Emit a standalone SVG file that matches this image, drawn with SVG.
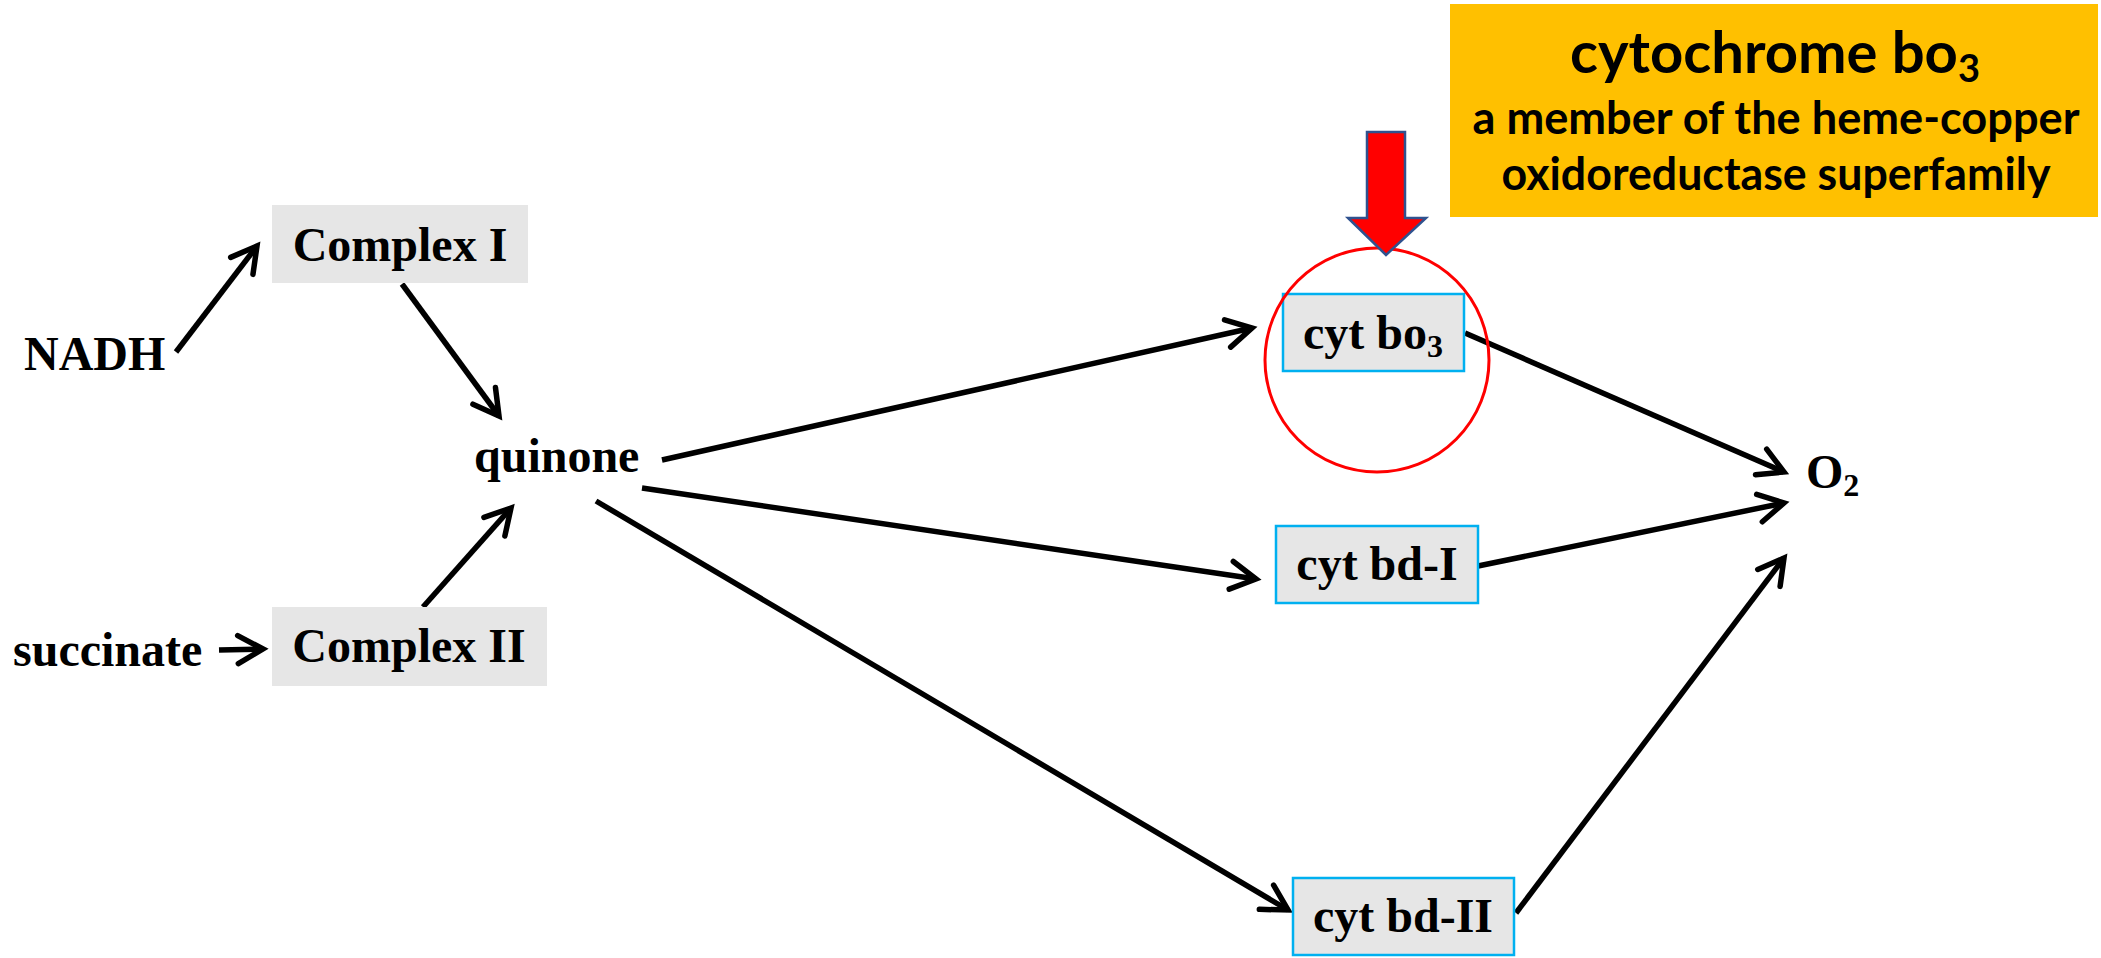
<svg xmlns="http://www.w3.org/2000/svg" width="2101" height="958" viewBox="0 0 2101 958">
<style>
.t{font-family:"Liberation Serif","Times New Roman",serif;font-weight:bold;font-size:48px;fill:#000}
.c{font-family:Lato,"Open Sans",sans-serif;font-weight:bold;fill:#000;text-anchor:middle}
.gbox{fill:#E6E6E6}
.cbox{fill:#E6E6E6;stroke:#00B0F0;stroke-width:2.5}
.arr{stroke:#000;stroke-width:5.5;fill:none;marker-end:url(#ah)}
</style>
<defs>
<marker id="ah" markerUnits="userSpaceOnUse" viewBox="-30 -20 40 40" markerWidth="40" markerHeight="40" refX="0" refY="0" orient="auto" overflow="visible">
<path d="M-25,-14 L0,0 L-25,14" fill="none" stroke="#000" stroke-width="5.5" stroke-linecap="round" stroke-linejoin="miter"/>
</marker>
</defs>
<rect width="2101" height="958" fill="#fff"/>
<g id="connectors">
<line class="arr" x1="176" y1="352" x2="257" y2="246"/>
<line class="arr" x1="402" y1="284" x2="499" y2="416"/>
<line class="arr" x1="423" y1="607" x2="511" y2="508"/>
<line class="arr" x1="219" y1="650" x2="263" y2="649"/>
<line class="arr" x1="662" y1="460" x2="1252" y2="328"/>
<line class="arr" x1="642" y1="488" x2="1256" y2="579"/>
<line class="arr" x1="596" y1="501" x2="1288" y2="910"/>
<line class="arr" x1="1465" y1="333" x2="1784" y2="472"/>
<line class="arr" x1="1478" y1="566" x2="1784" y2="503"/>
<line class="arr" x1="1516" y1="913" x2="1784" y2="558"/>
</g>
<g id="nadh"><text class="t" x="24" y="370">NADH</text></g>
<g id="succinate"><text class="t" x="13" y="666">succinate</text></g>
<g id="complex1"><rect class="gbox" x="272" y="205" width="256" height="78"/><text class="t" x="400" y="261" text-anchor="middle">Complex I</text></g>
<g id="complex2"><rect class="gbox" x="272" y="607" width="275" height="79"/><text class="t" x="409" y="662" text-anchor="middle">Complex II</text></g>
<g id="quinone"><text class="t" x="474" y="472">quinone</text></g>
<g id="cytbo3"><rect class="cbox" x="1283" y="294" width="181" height="77"/><text class="t" x="1373" y="349" text-anchor="middle">cyt bo<tspan font-size="32" dy="8">3</tspan></text></g>
<g id="cytbd1"><rect class="cbox" x="1276" y="526" width="202" height="77"/><text class="t" x="1377" y="580" text-anchor="middle">cyt bd-I</text></g>
<g id="cytbd2"><rect class="cbox" x="1293" y="878" width="221" height="77"/><text class="t" x="1403" y="932" text-anchor="middle">cyt bd-II</text></g>
<g id="o2"><text class="t" x="1806" y="488">O<tspan font-size="32" dy="8">2</tspan></text></g>
<g id="highlight">
<circle cx="1377" cy="360" r="112" fill="none" stroke="#FF0000" stroke-width="3"/>
<polygon points="1367,132 1405,132 1405,218 1426,218 1386,255 1348,218 1367,218" fill="#FF0000" stroke="#2F528F" stroke-width="2.5"/>
</g>
<g id="infobox">
<rect x="1450" y="4" width="648" height="213" fill="#FFC000"/>
<text class="c" x="1775" y="73" font-size="58" textLength="410" lengthAdjust="spacingAndGlyphs">cytochrome bo<tspan font-size="38" dy="9">3</tspan></text>
<text class="c" x="1776" y="134" font-size="46" textLength="607" lengthAdjust="spacingAndGlyphs">a member of the heme-copper</text>
<text class="c" x="1776" y="190" font-size="46" textLength="549" lengthAdjust="spacingAndGlyphs">oxidoreductase superfamily</text>
</g>
</svg>
